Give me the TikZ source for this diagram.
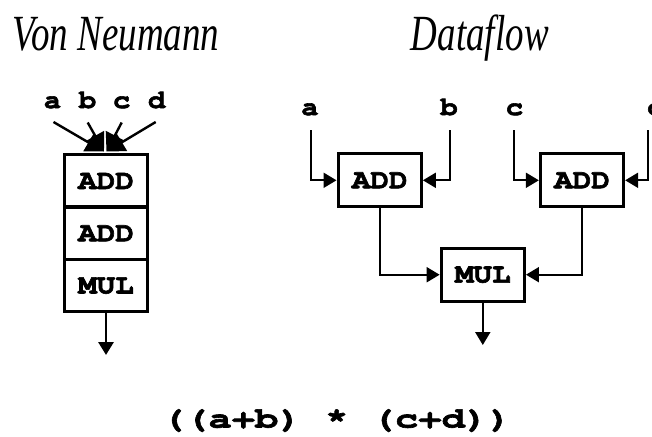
\documentclass[tikz,border=0pt]{standalone}
\usepackage{fontspec}
\setmainfont{Liberation Serif}
\newfontfamily\titlefont[FakeStretch=0.73]{Liberation Serif}
\newfontfamily\cour[FakeStretch=1.12,BoldFeatures={FakeBold=2.2}]{TeX Gyre Cursor}
\newfontfamily\courx[FakeStretch=1.34,BoldFeatures={FakeBold=2.2}]{TeX Gyre Cursor}
\usetikzlibrary{arrows.meta,calc}
\begin{document}
\begin{tikzpicture}[x=0.75pt,y=-0.75pt,
  box/.style={draw,line width=2.25pt,minimum width=62.5pt,minimum height=39.5pt,inner sep=0pt,
    font=\cour\bfseries\fontsize{20.7}{22}\selectfont},
  lab/.style={inner sep=0pt,anchor=base,font=\cour\bfseries\fontsize{19.5}{22}\selectfont},
  title/.style={inner sep=0pt,anchor=base west,font=\titlefont\itshape\fontsize{38}{42}\selectfont},
  conn/.style={line width=1.5pt,-{Triangle[length=9.75pt,width=11.25pt]}},
  vnconn/.style={line width=1.8pt,-{Triangle[length=13.5pt,width=15pt]}},
  vnout/.style={line width=2.2pt,-{Triangle[length=9.75pt,width=11.25pt]}}
]
\useasboundingbox (0,0) rectangle (652,436);
% titles
\node[title] (t1) at (12.6,50.5) {Von Neumann};
\node[title] (t2) at (410.7,50.5) {Dataflow};
% Von Neumann stack
\node[box] (v1) at (106,181) {ADD};
\node[box] (v2) at (106,233.3) {ADD};
\node[box] (v3) at (106,285.6) {MUL};
\node[lab] (va) at (52.5,108) {a};
\node[lab] (vb) at (87.5,108) {b};
\node[lab] (vc) at (121.7,108) {c};
\node[lab] (vd) at (156.7,108) {d};
\coordinate (ta) at (104,151.5);
\coordinate (tb) at (104,151.5);
\coordinate (tc) at (106.5,151.5);
\coordinate (td) at (106.5,151.5);
\draw[vnconn] ($(va.base)+(1,14)$) -- (ta);
\draw[vnconn] ($(vb.base)+(0.2,14.5)$) -- (tb);
\draw[vnconn] ($(vc.base)+(0,14.5)$) -- (tc);
\draw[vnconn] ($(vd.base)+(-1,14)$) -- (td);
\coordinate (o1) at (106,355);
\draw[vnout] (v3.south) -- (o1);
% Dataflow
\node[box] (add1) at (379.7,180.3) {ADD};
\node[box] (add2) at (582,180.3) {ADD};
\node[box] (mul) at (482.8,274.7) {MUL};
\node[lab] (a) at (310,115) {a};
\node[lab] (b) at (449,115) {b};
\node[lab] (c) at (514.5,115) {c};
\node[lab] (d) at (656,115) {d};
\draw[conn] ($(a.base)+(1,15)$) |- (add1.west);
\draw[conn] ($(b.base)+(1,15)$) |- (add1.east);
\draw[conn] ($(c.base)+(-0.2,15)$) |- (add2.west);
\draw[conn] ($(d.base)+(-7.7,15)$) |- (add2.east);
\draw[conn] (add1.south) |- (mul.west);
\draw[conn] (add2.south) |- (mul.east);
\coordinate (o2) at (482.8,345);
\draw[conn] (mul.south) -- (o2);
% expression
\node[inner sep=0pt,anchor=base,font=\courx\bfseries\fontsize{21.75}{24}\selectfont] (expr) at (336.7,427.5) {((a+b) * (c+d))};
\end{tikzpicture}
\end{document}
